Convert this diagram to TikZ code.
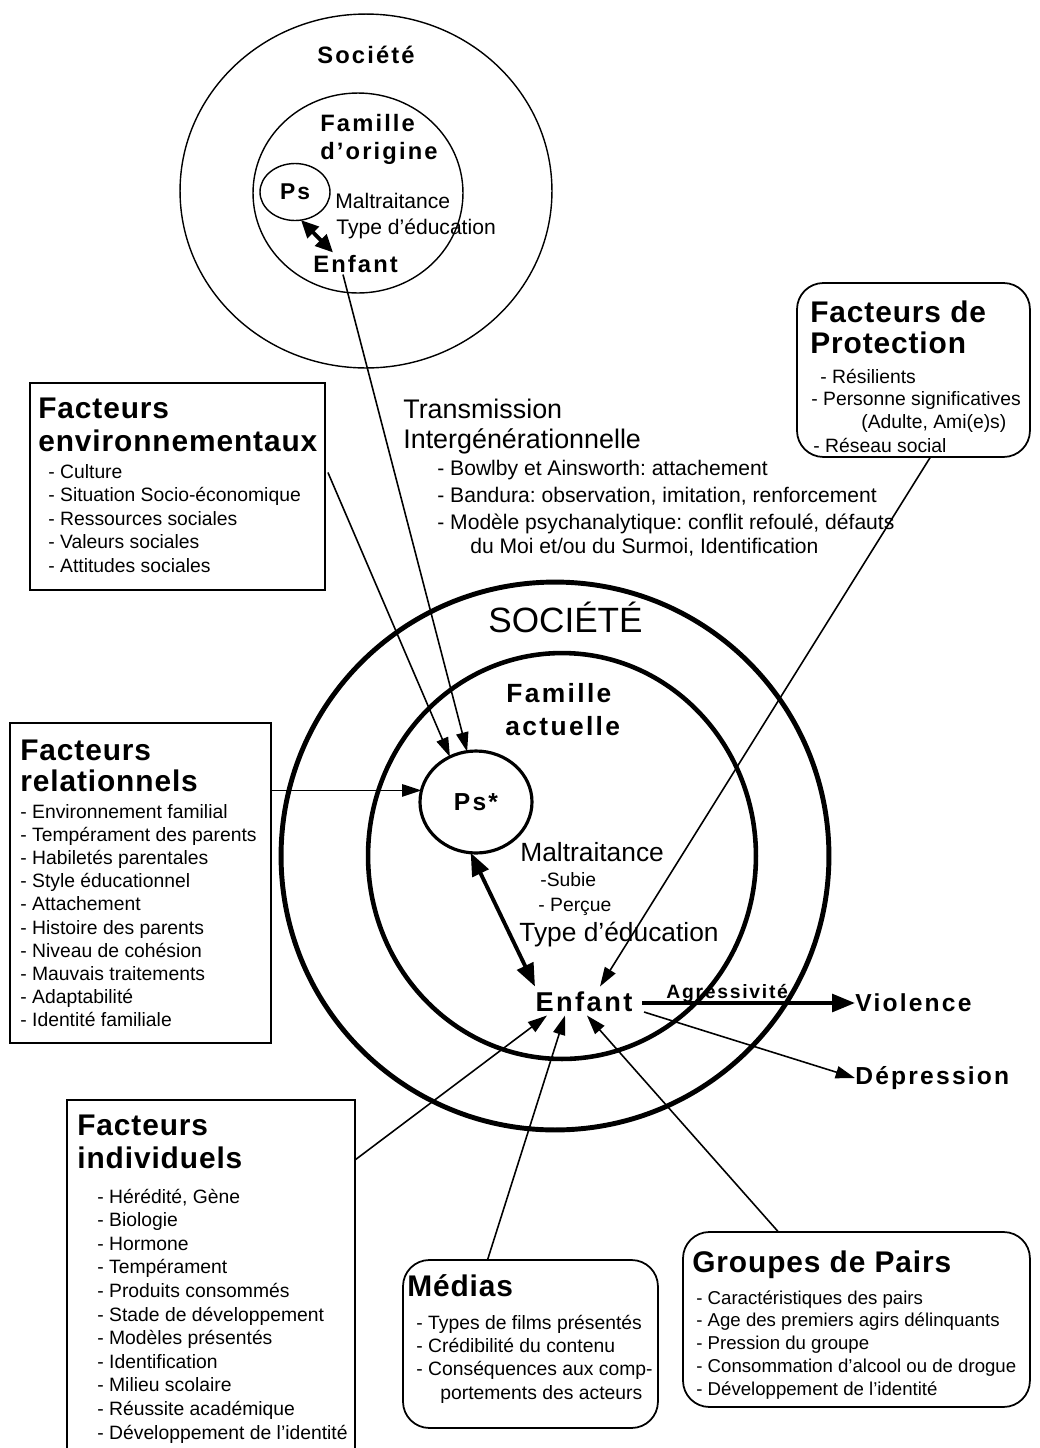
\documentclass[tikz,border=0pt]{standalone}
\usepackage{fontspec}
\setmainfont{Liberation Sans}
\newfontfamily\hd[LetterSpace=3]{Liberation Sans}
\newfontfamily\hdw[LetterSpace=9]{Liberation Sans}
\usetikzlibrary{arrows.meta,shapes.geometric,calc}
\frenchspacing

\tikzset{
  item/.style={anchor=base west, inner sep=0pt, font=\fontsize{11pt}{13pt}\selectfont},
  smallitem/.style={anchor=base west, inner sep=0pt, font=\fontsize{10.6pt}{12pt}\selectfont},
  transitem/.style={anchor=base west, inner sep=0pt, font=\fontsize{12pt}{14pt}\selectfont},
  ttl/.style={anchor=base west, inner sep=0pt, font=\hd\bfseries\fontsize{17pt}{19pt}\selectfont},
  lbl/.style={anchor=base west, inner sep=0pt, font=\hdw\bfseries\fontsize{13.5pt}{15pt}\selectfont},
  mid/.style={anchor=base west, inner sep=0pt, font=\fontsize{15pt}{17pt}\selectfont},
  plainbox/.style={draw, line width=1pt, anchor=north west, inner sep=0pt, outer sep=0pt},
  roundbox/.style={plainbox, rounded corners=15pt},
  thinring/.style={draw, ellipse, line width=0.8pt, inner sep=0pt, outer sep=0pt},
  thickring/.style={draw, ellipse, line width=2.8pt, inner sep=0pt, outer sep=0pt},
  arr/.style={-{Triangle[length=11pt,width=7pt]}, line width=0.9pt},
  heavyarr/.style={-{Triangle[length=13pt,width=10pt]}, line width=2.2pt},
  heavydbl/.style={{Triangle[length=13pt,width=10pt]}-{Triangle[length=13pt,width=10pt]}, line width=2.2pt},
  smalldbl/.style={{Triangle[length=10pt,width=9pt]}-{Triangle[length=10pt,width=9pt]}, line width=2.2pt},
}

\begin{document}
\begin{tikzpicture}[x=0.02cm, y=-0.02cm]
\clip (0,0) rectangle (1040,1448);
\fill[white] (0,0) rectangle (1040,1448);

% ---------- family of origin ----------
\node[thinring, minimum width=7.44cm, minimum height=7.08cm] (soc1) at (366,191) {};
\node[thinring, minimum width=4.2cm, minimum height=4.0cm] (fam1) at (358,193) {};
\node[thinring, minimum width=1.4cm, minimum height=1.14cm,
      font=\hdw\bfseries\fontsize{13pt}{15pt}\selectfont] (ps1) at (295,192) {Ps};
\node[lbl, anchor=base] (tsoc1) at (366,63) {Société};
\node[lbl] (tfam1a) at (320,131) {Famille};
\node[lbl] (tfam1b) at (320,159) {d’origine};
\node[item, font=\fontsize{12pt}{14pt}\selectfont] (tmal1) at (335,208) {Maltraitance};
\node[item, font=\fontsize{12pt}{14pt}\selectfont] (tedu1) at (336,234) {Type d’éducation};
\node[lbl] (enf1) at (313,272) {Enfant};
\draw[smalldbl] (ps1.-78) -- ($(enf1.north west)+(20,-2)$);

% ---------- intergenerational transmission ----------
\node[anchor=base west, inner sep=0pt, font=\fontsize{15.3pt}{17pt}\selectfont] (tr1) at (403,418) {Transmission};
\node[anchor=base west, inner sep=0pt, font=\fontsize{15.3pt}{17pt}\selectfont] (tr2) at (403,448) {Intergénérationnelle};
\node[transitem] (tr3) at (437,475) {- Bowlby et Ainsworth: attachement};
\node[transitem] (tr4) at (437,502) {- Bandura: observation, imitation, renforcement};
\node[transitem] (tr5) at (437,529) {- Modèle psychanalytique: conflit refoulé, défauts};
\node[transitem] (tr6) at (470,553) {du Moi et/ou du Surmoi, Identification};

% ---------- current family ----------
\node[thickring, minimum width=10.96cm, minimum height=10.96cm] (soc2) at (555,856) {};
\node[thickring, minimum width=7.76cm, minimum height=8.12cm, line width=2.6pt] (fam2) at (562,856) {};
\node[draw, ellipse, line width=1.8pt, inner sep=0pt, outer sep=0pt,
      minimum width=2.24cm, minimum height=2.04cm,
      font=\hdw\bfseries\fontsize{14pt}{16pt}\selectfont] (ps2) at (476,802) {Ps*};
\node[anchor=base west, inner sep=0pt, font=\fontsize{20pt}{22pt}\selectfont] (tsoc2) at (488,632) {SOCIÉTÉ};
\node[lbl, font=\hdw\bfseries\fontsize{15pt}{17pt}\selectfont] (tfam2a) at (506,702) {Famille};
\node[lbl, font=\hdw\bfseries\fontsize{15pt}{17pt}\selectfont] (tfam2b) at (505,735) {actuelle};
\node[mid] (tmal2) at (520,861) {Maltraitance};
\node[item] (tsub) at (540,886) {-Subie};
\node[item] (tper) at (538,911) {- Perçue};
\node[mid] (tedu2) at (519,941) {Type d’éducation};
\node[inner sep=2pt, outer sep=0pt, font=\hdw\bfseries\fontsize{15.5pt}{17pt}\selectfont] (enf2) at (584,1002) {Enfant};

\node[anchor=west, inner sep=0pt, font=\hdw\bfseries\fontsize{14pt}{16pt}\selectfont] (viol) at (855,1003) {Violence};
\node[anchor=west, inner sep=0pt, font=\hdw\bfseries\fontsize{14pt}{16pt}\selectfont] (dep) at (855,1078) {Dépression};

\draw[heavydbl] (ps2.-96) -- ($(enf2.north west)+(3,-2)$);
\draw[heavyarr] ($(enf2.east)+(6,1)$) -- (viol.west)
  node[pos=0.4, above=-1pt, inner sep=0pt,
       font=\hdw\bfseries\fontsize{11pt}{12pt}\selectfont] (agr) {Agressivité};
\draw[arr] ($(enf2.east)+(8,10)$) -- (dep.west);

% ---------- factor boxes ----------
\node[plainbox, minimum width=5.9cm, minimum height=4.14cm] (env) at (30,383) {};
\node[ttl] (envt1) at (38,418) {Facteurs};
\node[ttl] (envt2) at (38,451) {environnementaux};
\foreach \t [count=\i] in {- Culture, - Situation Socio-économique, - Ressources sociales,
    - Valeurs sociales, - Attitudes sociales}
  \node[item] (env\i) at (48,{478+(\i-1)*23.5}) {\t};

\node[roundbox, minimum width=4.66cm, minimum height=3.48cm] (prot) at (797,283) {};
\node[ttl] (prott1) at (810,322) {Facteurs de};
\node[ttl] (prott2) at (810,353) {Protection};
\node[item] (prot1) at (820,383) {- Résilients};
\node[item] (prot2) at (811,405) {- Personne significatives};
\node[item] (prot3) at (861,428) {(Adulte, Ami(e)s)};
\node[item] (prot4) at (813,452) {- Réseau social};

\node[plainbox, minimum width=5.22cm, minimum height=6.4cm] (rel) at (10,723) {};
\node[ttl] (relt1) at (20,760) {Facteurs};
\node[ttl] (relt2) at (20,791) {relationnels};
\foreach \t [count=\i] in {- Environnement familial, - Tempérament des parents,
    - Habiletés parentales, - Style éducationnel, - Attachement, - Histoire des parents,
    - Niveau de cohésion, - Mauvais traitements, - Adaptabilité, - Identité familiale}
  \node[item] (rel\i) at (20,{818+(\i-1)*23.2}) {\t};

\node[plainbox, minimum width=5.76cm, minimum height=8cm] (ind) at (67,1100) {};
\node[ttl] (indt1) at (77,1135) {Facteurs};
\node[ttl] (indt2) at (77,1168) {individuels};
\foreach \t [count=\i] in {{- Hérédité, Gène}, - Biologie, - Hormone, - Tempérament,
    - Produits consommés, - Stade de développement, - Modèles présentés,
    - Identification, - Milieu scolaire, - Réussite académique,
    - Développement de l’identité}
  \node[item] (ind\i) at (97,{1203+(\i-1)*23.6}) {\t};

\node[roundbox, minimum width=5.1cm, minimum height=3.36cm] (med) at (403,1260) {};
\node[ttl] (medt) at (407,1296) {Médias};
\node[item] (med1) at (416,1329) {- Types de films présentés};
\node[item] (med2) at (416,1352) {- Crédibilité du contenu};
\node[item] (med3) at (416,1375) {- Conséquences aux comp-};
\node[item] (med4) at (440,1399) {portements des acteurs};

\node[roundbox, minimum width=6.94cm, minimum height=3.5cm] (grp) at (683,1232) {};
\node[ttl] (grpt) at (692,1272) {Groupes de Pairs};
\foreach \t [count=\i] in {- Caractéristiques des pairs, - Age des premiers agirs délinquants,
    - Pression du groupe, - Consommation d’alcool ou de drogue,
    - Développement de l’identité}
  \node[smallitem] (grp\i) at (696,{1304+(\i-1)*22.8}) {\t};

% ---------- influences ----------
\draw[arr] ($(enf1.south west)+(30,2)$) -- (ps2.100);
\draw[arr] ($(env.east)+(3,-14)$) -- (ps2.120);
\draw[arr] (rel.east |- ps2.168) -- (ps2.168);
\draw[arr] ($(prot.south)+(17,0)$) -- ($(enf2.north)+(16,-2)$);
\draw[arr] ($(ind.north east)+(0,60)$) -- ($(enf2.south)+(-37,0)$);
\draw[arr] ($(med.north)+(-43,0)$) -- ($(enf2.south)+(-19,0)$);
\draw[arr] ($(grp.north)+(-78,0)$) -- ($(enf2.south)+(3,0)$);
\end{tikzpicture}
\end{document}
